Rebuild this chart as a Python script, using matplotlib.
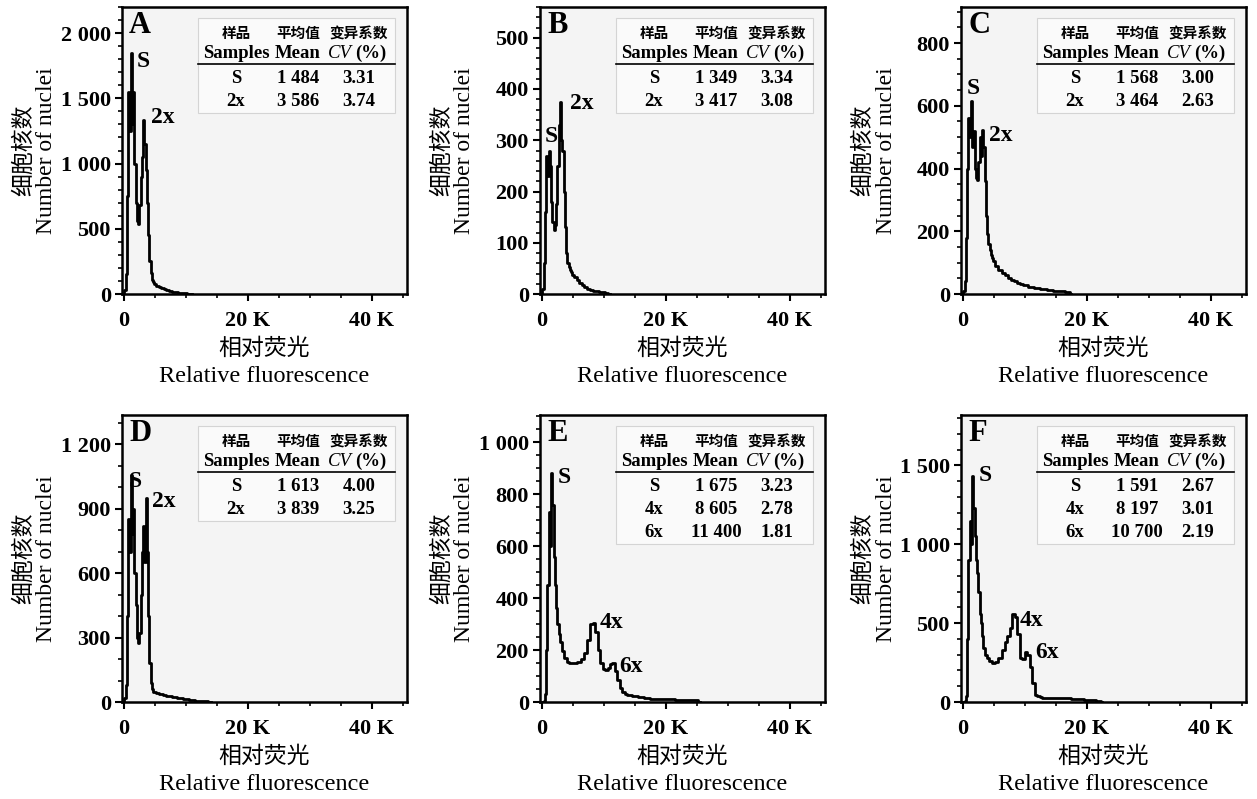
import matplotlib
matplotlib.use("Agg")
import matplotlib.pyplot as plt
from matplotlib.ticker import AutoMinorLocator
from matplotlib.patches import Rectangle

plt.rcParams['font.family'] = ['Liberation Serif', 'Noto Sans CJK SC']
CJK = 'Noto Sans CJK SC'

# ---- histogram data (x in K, counts) ----
x_a = [0.0, 0.2, 0.4, 0.6, 0.8, 1.0, 1.2, 1.4, 1.6, 1.8, 2.0, 2.2, 2.4, 2.6, 2.8, 3.0, 3.2, 3.4, 3.6, 3.8,
       4.0, 4.2, 4.4, 4.6, 4.8, 5.0, 5.4, 5.8, 6.2, 6.6, 7.0, 7.5, 8.0, 8.5, 9.0, 9.5, 10.0, 10.5, 11.0]
y_a = [0, 30, 150, 750, 1550, 1250, 1850, 1300, 1550, 1000, 700, 560, 540, 680, 900, 1050, 1330, 1150, 950, 700,
       450, 250, 160, 110, 90, 75, 62, 55, 48, 40, 30, 22, 16, 12, 10, 8, 6, 3, 0]

x_b = [0.0, 0.2, 0.4, 0.6, 0.8, 1.0, 1.2, 1.4, 1.6, 1.8, 2.0, 2.2, 2.4, 2.6, 2.8, 3.0, 3.2, 3.4, 3.6, 3.8,
       4.0, 4.2, 4.4, 4.6, 4.8, 5.0, 5.4, 5.8, 6.2, 6.6, 7.0, 7.5, 8.0, 8.5, 9.0, 9.5, 10.0, 10.5, 11.0]
y_b = [0, 10, 60, 160, 270, 230, 280, 250, 180, 140, 125, 135, 175, 250, 330, 375, 300, 280, 200, 130,
       80, 60, 52, 46, 42, 38, 33, 28, 22, 17, 13, 10, 8, 6, 5, 4, 3, 2, 0]

x_c = [0.0, 0.2, 0.4, 0.6, 0.8, 1.0, 1.2, 1.4, 1.6, 1.8, 2.0, 2.2, 2.4, 2.6, 2.8, 3.0, 3.2, 3.4, 3.6, 3.8,
       4.0, 4.2, 4.4, 4.6, 4.8, 5.0, 5.5, 6.0, 6.5, 7.0, 7.5, 8.0, 8.5, 9.0, 9.5, 10.0, 11.0, 12.0, 13.0,
       14.0, 15.0, 16.0, 17.0, 17.5]
y_c = [0, 10, 40, 180, 400, 560, 500, 615, 470, 520, 400, 370, 365, 420, 500, 440, 524, 470, 360, 250,
       190, 160, 140, 125, 115, 105, 90, 78, 68, 60, 52, 45, 40, 36, 32, 28, 22, 18, 15,
       13, 11, 9, 7, 0]

x_d = [0.0, 0.2, 0.4, 0.6, 0.8, 1.0, 1.2, 1.4, 1.6, 1.8, 2.0, 2.2, 2.4, 2.6, 2.8, 3.0, 3.2, 3.4, 3.6, 3.8,
       4.0, 4.2, 4.4, 4.6, 4.8, 5.0, 5.5, 6.0, 6.5, 7.0, 7.5, 8.0, 9.0, 10.0, 11.0, 12.0, 13.0, 14.0]
y_d = [0, 20, 80, 400, 850, 700, 1055, 780, 900, 600, 450, 300, 275, 320, 500, 700, 820, 650, 950, 700,
       400, 180, 90, 60, 48, 45, 42, 38, 34, 30, 27, 24, 18, 13, 9, 6, 3, 0]

x_e = [0.0, 0.2, 0.4, 0.6, 0.8, 1.0, 1.2, 1.4, 1.6, 1.8, 2.0, 2.2, 2.4, 2.6, 2.8, 3.0, 3.4, 3.8, 4.2, 4.6,
       5.0, 5.5, 6.0, 6.5, 7.0, 7.5, 8.0, 8.4, 8.8, 9.2, 9.6, 10.0, 10.4, 10.8, 11.2, 11.6, 12.0, 12.4,
       12.8, 13.2, 13.6, 14.0, 15.0, 16.0, 17.0, 18.0, 19.0, 20.0, 21.0, 22.0, 23.0, 24.0, 25.0, 25.5]
y_e = [0, 0, 5, 30, 200, 450, 730, 600, 880, 760, 560, 450, 360, 300, 260, 230, 195, 170, 155, 150,
       150, 150, 155, 165, 190, 240, 300, 306, 270, 200, 150, 128, 122, 130, 145, 150, 120, 85,
       55, 38, 30, 27, 22, 18, 15, 13, 11, 10, 10, 9, 9, 8, 6, 0]

x_f = [0.0, 0.2, 0.4, 0.6, 0.8, 1.0, 1.2, 1.4, 1.6, 1.8, 2.0, 2.2, 2.4, 2.6, 2.8, 3.0, 3.2, 3.4, 3.7, 4.0,
       4.5, 5.0, 5.5, 6.0, 6.5, 7.0, 7.4, 7.8, 8.2, 8.6, 9.0, 9.4, 9.8, 10.2, 10.6, 11.0, 11.4, 11.8,
       12.2, 12.6, 13.0, 14.0, 15.0, 16.0, 17.0, 18.0, 19.0, 20.0, 21.0, 22.0, 22.5]
y_f = [0, 0, 5, 40, 400, 900, 1150, 1000, 1433, 1230, 1050, 900, 820, 700, 560, 500, 420, 340, 300, 280,
       260, 250, 255, 280, 330, 380, 420, 470, 560, 540, 430, 280, 274, 318, 300, 220, 120, 45,
       35, 30, 28, 26, 25, 24, 23, 20, 16, 13, 11, 9, 0]

# ---- axis ticks ----
x_ticks = [0, 20000, 40000]
x_ticklabels = ['0', '20 K', '40 K']

yt_a = [0, 500, 1000, 1500, 2000]
yl_a = ['0', '500', '1 000', '1 500', '2 000']
yt_b = [0, 100, 200, 300, 400, 500]
yl_b = ['0', '100', '200', '300', '400', '500']
yt_c = [0, 200, 400, 600, 800]
yl_c = ['0', '200', '400', '600', '800']
yt_d = [0, 300, 600, 900, 1200]
yl_d = ['0', '300', '600', '900', '1 200']
yt_e = [0, 200, 400, 600, 800, 1000]
yl_e = ['0', '200', '400', '600', '800', '1 000']
yt_f = [0, 500, 1000, 1500]
yl_f = ['0', '500', '1 000', '1 500']

ymax = [2200, 560, 915, 1335, 1105, 1820]
minor_n = [5, 5, 4, 3, 4, 5]

# ---- inset tables ----
tab_a = [('S', '1 484', '3.31'), ('2x', '3 586', '3.74')]
tab_b = [('S', '1 349', '3.34'), ('2x', '3 417', '3.08')]
tab_c = [('S', '1 568', '3.00'), ('2x', '3 464', '2.63')]
tab_d = [('S', '1 613', '4.00'), ('2x', '3 839', '3.25')]
tab_e = [('S', '1 675', '3.23'), ('4x', '8 605', '2.78'), ('6x', '11 400', '1.81')]
tab_f = [('S', '1 591', '2.67'), ('4x', '8 197', '3.01'), ('6x', '10 700', '2.19')]

# peak labels (text, x in K, y)
pk_a = [('S', 2.1, 1780), ('2x', 4.3, 1350)]
pk_b = [('S', 0.4, 308), ('2x', 4.5, 371)]
pk_c = [('S', 0.6, 656), ('2x', 4.3, 506)]
pk_d = [('S', 0.7, 1025), ('2x', 4.6, 932)]
pk_e = [('S', 2.5, 866), ('4x', 9.3, 306), ('6x', 12.5, 135)]
pk_f = [('S', 2.6, 1436), ('4x', 9.1, 517), ('6x', 11.7, 314)]

letters = ['A', 'B', 'C', 'D', 'E', 'F']
xs = [x_a, x_b, x_c, x_d, x_e, x_f]
ys = [y_a, y_b, y_c, y_d, y_e, y_f]
yts = [yt_a, yt_b, yt_c, yt_d, yt_e, yt_f]
yls = [yl_a, yl_b, yl_c, yl_d, yl_e, yl_f]
tabs = [tab_a, tab_b, tab_c, tab_d, tab_e, tab_f]
pks = [pk_a, pk_b, pk_c, pk_d, pk_e, pk_f]

W, H = 1257, 799
fig = plt.figure(figsize=(W / 100, H / 100), dpi=100)
fig.patch.set_facecolor('white')

col_left = [122, 540, 961]
row_top = [7, 415]
ax_w, ax_h = 285, 287

for i in range(6):
    r, c = divmod(i, 3)
    l, t = col_left[c], row_top[r]
    ax = fig.add_axes([l / W, 1 - (t + ax_h) / H, ax_w / W, ax_h / H])
    ax.set_facecolor('#f4f4f4')

    xv = [v * 1000 for v in xs[i]]
    ax.plot(xv, ys[i], drawstyle='steps-mid', color='black', lw=2.0)

    ax.set_xlim(-300, 45700)
    ax.set_ylim(0, ymax[i])
    ax.set_xticks(x_ticks)
    ax.set_xticklabels(x_ticklabels, fontweight='bold', fontsize=16)
    ax.set_yticks(yts[i])
    ax.set_yticklabels(yls[i], fontweight='bold', fontsize=16)
    ax.xaxis.set_minor_locator(AutoMinorLocator(4))
    ax.yaxis.set_minor_locator(AutoMinorLocator(minor_n[i]))
    ax.tick_params(which='major', direction='out', length=5, width=1.5, pad=3)
    ax.tick_params(which='minor', direction='out', length=3, width=1.2)
    ax.tick_params(axis='x', pad=7)
    for side in ['left', 'bottom', 'top', 'right']:
        ax.spines[side].set_linewidth(1.8)
        ax.spines[side].set_color('black')

    ax.text(0.025, 0.985, letters[i], transform=ax.transAxes, ha='left', va='top',
            fontsize=22, fontweight='bold')

    for txt, px, py in pks[i]:
        ax.text(px * 1000, py, txt, ha='left', va='center', fontsize=17, fontweight='bold')

    # inset table
    rows = tabs[i]
    y_rows = [0.752, 0.672, 0.592][:len(rows)]
    bottom = y_rows[-1] - 0.04
    ax.add_patch(Rectangle((0.268, bottom), 0.69, 0.96 - bottom, transform=ax.transAxes,
                           facecolor='#fafafa', edgecolor='#d4d4d4', lw=0.8, zorder=1))
    cx = [0.40, 0.618, 0.832]
    for cxx, h in zip(cx, ['样品', '平均值', '变异系数']):
        ax.text(cxx, 0.91, h, transform=ax.transAxes, ha='center', va='center',
                fontsize=10.5, fontweight='bold', family=CJK, zorder=3)
    ax.text(cx[0], 0.838, 'Samples', transform=ax.transAxes, ha='center', va='center',
            fontsize=13.5, fontweight='bold', zorder=3)
    ax.text(cx[1], 0.838, 'Mean', transform=ax.transAxes, ha='center', va='center',
            fontsize=13.5, fontweight='bold', zorder=3)
    ax.text(0.808, 0.838, 'CV', transform=ax.transAxes, ha='right', va='center',
            fontsize=13.5, style='italic', zorder=3)
    ax.text(0.818, 0.838, '(%)', transform=ax.transAxes, ha='left', va='center',
            fontsize=13.5, fontweight='bold', zorder=3)
    ax.plot([0.268, 0.958], [0.802, 0.802], transform=ax.transAxes, color='black', lw=1.2, zorder=3)
    for yy, row in zip(y_rows, rows):
        for cxx, v in zip(cx, row):
            ax.text(cxx, yy, v, transform=ax.transAxes, ha='center', va='center',
                    fontsize=13.5, fontweight='bold', zorder=3)

    # axis titles (two lines each)
    yc = 1 - (t + ax_h / 2) / H
    fig.text((l - 98) / W, yc, '细胞核数', rotation=90, ha='center', va='center',
             fontsize=16.5, family=CJK)
    fig.text((l - 75) / W, yc, 'Number of nuclei', rotation=90, ha='center', va='center',
             fontsize=17)
    xc = (l + ax_w / 2) / W
    fig.text(xc, 1 - (t + ax_h + 54) / H, '相对荧光', ha='center', va='center',
             fontsize=16.5, family=CJK)
    fig.text(xc, 1 - (t + ax_h + 83) / H, 'Relative fluorescence', ha='center', va='center',
             fontsize=17.5)

fig.savefig('out.png', dpi=100)
